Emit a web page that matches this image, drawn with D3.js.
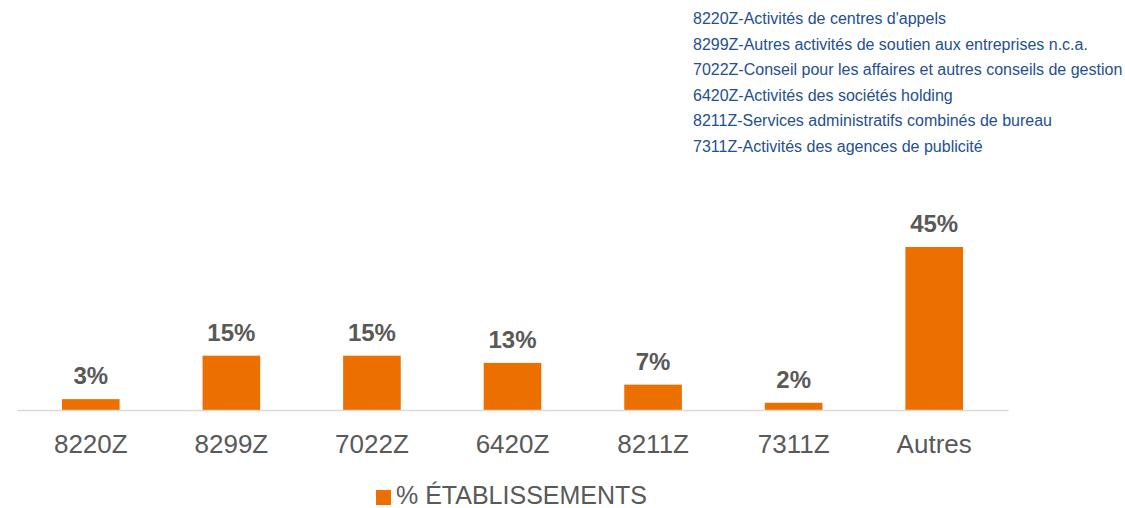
<!DOCTYPE html>
<html>
<head>
<meta charset="utf-8">
<script src="https://cdn.jsdelivr.net/npm/d3@7"></script>
<style>
  html, body { margin: 0; padding: 0; background: #fff; }
  svg { display: block; font-family: "Liberation Sans", Arial, sans-serif; }
</style>
</head>
<body>
<svg id="chart" width="1125" height="508"></svg>
<script>
const categories = ["8220Z", "8299Z", "7022Z", "6420Z", "8211Z", "7311Z", "Autres"];
const values = [3, 15, 15, 13, 7, 2, 45];
const valueLabels = ["3%", "15%", "15%", "13%", "7%", "2%", "45%"];
const seriesName = "% ÉTABLISSEMENTS";
const notes = [
  "8220Z-Activités de centres d'appels",
  "8299Z-Autres activités de soutien aux entreprises n.c.a.",
  "7022Z-Conseil pour les affaires et autres conseils de gestion",
  "6420Z-Activités des sociétés holding",
  "8211Z-Services administratifs combinés de bureau",
  "7311Z-Activités des agences de publicité"
];

const svg = d3.select("#chart");
const barColor = "#EC7000";
const textGray = "#595959";
const ff = "'Liberation Sans', Arial, sans-serif";

const x = d3.scaleBand().domain(categories).range([17, 1008]).paddingInner(0.59).paddingOuter(0.32);
const y = d3.scaleLinear().domain([0, 45]).range([410, 247]);

// bars
svg.append("g").selectAll("rect").data(categories).join("rect")
  .attr("x", d => x(d))
  .attr("width", x.bandwidth())
  .attr("y", (d, i) => y(values[i]))
  .attr("height", (d, i) => y(0) - y(values[i]))
  .attr("fill", barColor);

// axis baseline
const xAxis = svg.append("g").attr("transform", `translate(0,${y(0)})`)
  .call(d3.axisBottom(x).tickSize(0).tickPadding(25));
xAxis.attr("font-family", ff);
xAxis.select(".domain").attr("stroke", "#D9D9D9").attr("stroke-width", 1.5);
xAxis.selectAll(".tick text")
  .attr("font-size", 26).attr("fill", textGray);

// value labels
svg.append("g").selectAll("text").data(categories).join("text")
  .attr("x", d => x(d) + x.bandwidth() / 2)
  .attr("y", (d, i) => y(values[i]) - 15)
  .attr("text-anchor", "middle")
  .attr("font-size", 24).attr("font-weight", "bold")
  .attr("fill", textGray)
  .text((d, i) => valueLabels[i]);

// legend
const lg = svg.append("g");
lg.append("rect").attr("x", 376).attr("y", 490).attr("width", 15).attr("height", 15).attr("fill", barColor);
lg.append("text").attr("x", 396).attr("y", 504)
  .attr("font-size", 25).attr("fill", textGray).text(seriesName);

// notes
svg.append("g").selectAll("text").data(notes).join("text")
  .attr("x", 693)
  .attr("y", (d, i) => 24 + i * 25.6)
  .attr("font-size", 16)
  .attr("fill", "#24508F")
  .text(d => d);
</script>
</body>
</html>
